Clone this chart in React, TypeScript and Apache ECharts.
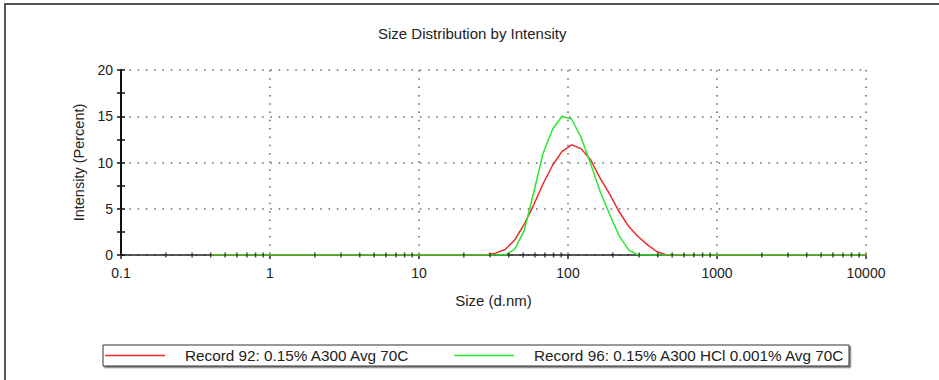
import React, { useEffect, useRef } from "react";
import * as echarts from "echarts";

const titleText = "Size Distribution by Intensity";
const xName = "Size (d.nm)";
const yName = "Intensity (Percent)";
const seriesNames = ["Record 92: 0.15% A300 Avg 70C", "Record 96: 0.15% A300 HCl 0.001% Avg 70C"];

// size bins (d.nm)
const sizes = [
  0.4, 0.4632, 0.5365, 0.6213, 0.7195, 0.8332, 0.9649, 1.117, 1.294, 1.499,
  1.736, 2.01, 2.328, 2.696, 3.122, 3.615, 4.187, 4.849, 5.615, 6.503,
  7.531, 8.721, 10.1, 11.7, 13.54, 15.69, 18.17, 21.04, 24.36, 28.21,
  32.67, 37.84, 43.82, 50.75, 58.77, 68.06, 78.82, 91.28, 105.7, 122.4,
  141.8, 164.2, 190.1, 220.2, 255.0, 295.3, 342.0, 396.1, 458.7, 531.2,
  615.1, 712.4, 825.0, 955.4, 1106, 1281, 1484, 1718, 1990, 2305,
  2669, 3091, 3580, 4145, 4801, 5560, 6439, 7456, 8635, 10000,
];

const record92 = [
  0, 0, 0, 0, 0, 0, 0, 0, 0, 0,
  0, 0, 0, 0, 0, 0, 0, 0, 0, 0,
  0, 0, 0, 0, 0, 0, 0, 0, 0, 0,
  0.2, 0.6, 1.6, 3.3, 5.4, 7.7, 9.7, 11.2, 11.9, 11.5,
  10.3, 8.3, 6.6, 4.7, 3.1, 2.0, 1.1, 0.35, 0, 0,
  0, 0, 0, 0, 0, 0, 0, 0, 0, 0,
  0, 0, 0, 0, 0, 0, 0, 0, 0, 0,
];

const record96 = [
  0, 0, 0, 0, 0, 0, 0, 0, 0, 0,
  0, 0, 0, 0, 0, 0, 0, 0, 0, 0,
  0, 0, 0, 0, 0, 0, 0, 0, 0, 0,
  0, 0, 0.6, 2.6, 6.7, 11.0, 13.6, 15.0, 14.7, 12.7,
  9.9, 6.9, 4.4, 2.1, 0.55, 0, 0, 0, 0, 0,
  0, 0, 0, 0, 0, 0, 0, 0, 0, 0,
  0, 0, 0, 0, 0, 0, 0, 0, 0, 0,
];

// minor tick positions on the log x axis
const xMinorTicks = [
  0.2, 0.3, 0.4, 0.5, 0.6, 0.7, 0.8, 0.9,
  2, 3, 4, 5, 6, 7, 8, 9,
  20, 30, 40, 50, 60, 70, 80, 90,
  200, 300, 400, 500, 600, 700, 800, 900,
  2000, 3000, 4000, 5000, 6000, 7000, 8000, 9000,
];

const FONT = "'Liberation Sans', Arial, sans-serif";
const dotted = { type: [1.5, 6.8], color: "#666", width: 1.5 };

export default function App() {
  const ref = useRef<HTMLDivElement>(null);
  useEffect(() => {
    const chart = echarts.init(ref.current as HTMLDivElement, null, { renderer: "svg" });
    chart.setOption({
      animation: false,
      backgroundColor: "#fff",
      textStyle: { fontFamily: FONT },
      title: {
        text: titleText,
        left: 373,
        top: 21,
        textStyle: { fontSize: 15, fontWeight: "normal", color: "#222", fontFamily: FONT },
      },
      grid: { left: 121, right: 73, top: 70, bottom: 125 },
      xAxis: {
        type: "log",
        logBase: 10,
        min: 0.1,
        max: 10000,
        name: xName,
        nameLocation: "middle",
        nameGap: 38,
        nameTextStyle: { fontSize: 15, color: "#222" },
        axisLine: { lineStyle: { color: "#222", width: 1.5 } },
        axisTick: { show: true, length: 4, lineStyle: { color: "#222", width: 1.5 } },
        axisLabel: { fontSize: 14, color: "#222", margin: 11, formatter: (v: number) => String(v) },
        splitLine: { show: true, lineStyle: dotted },
      },
      yAxis: [
        {
          type: "value",
          min: 0,
          max: 20,
          interval: 5,
          name: yName,
          nameLocation: "middle",
          nameGap: 33,
          nameTextStyle: { fontSize: 14.5, color: "#222" },
          axisLine: { show: true, lineStyle: { color: "#111", width: 2 } },
          axisTick: { show: true, length: 4, lineStyle: { color: "#111", width: 1.5 } },
          minorTick: { show: true, splitNumber: 2, length: 4, lineStyle: { color: "#111", width: 1.5 } },
          axisLabel: { fontSize: 14, color: "#222", margin: 8 },
          splitLine: { show: true, lineStyle: dotted },
        },
        {
          type: "value",
          min: 0,
          max: 20,
          interval: 5,
          position: "left",
          axisLine: { show: false },
          axisTick: { show: true, inside: true, length: 4, lineStyle: { color: "#111", width: 1.5 } },
          minorTick: { show: true, splitNumber: 2, length: 4, lineStyle: { color: "#111", width: 1.5 } },
          axisLabel: { show: false },
          splitLine: { show: false },
        },
      ],
      legend: {
        data: seriesNames,
        left: 103,
        top: 345,
        icon: "rect",
        itemWidth: 60,
        itemHeight: 1.5,
        itemGap: 44,
        padding: [3, 4, 3, 2],
        borderColor: "#333",
        borderWidth: 1,
        backgroundColor: "#fff",
        shadowColor: "#777",
        shadowOffsetX: 1.5,
        shadowOffsetY: 1.5,
        selectedMode: false,
        textStyle: { fontSize: 15.3, color: "#222", padding: [0, 0, 0, 15] },
      },
      graphic: [
        {
          type: "rect",
          silent: true,
          z: -10,
          shape: { x: 5, y: 4, width: 1000, height: 500 },
          style: { fill: "none", stroke: "#555", lineWidth: 2 },
        },
      ],
      series: [
        {
          name: seriesNames[0],
          type: "line",
          data: sizes.map((s, i) => [s, record92[i]]),
          symbol: "none",
          color: "#f02828",
          lineStyle: { color: "#f02828", width: 1.5 },
          z: 2,
        },
        {
          name: seriesNames[1],
          type: "line",
          data: sizes.map((s, i) => [s, record96[i]]),
          symbol: "none",
          color: "#2ee62e",
          lineStyle: { color: "#2ee62e", width: 1.5 },
          z: 3,
        },
        {
          type: "scatter",
          data: xMinorTicks.map((v) => [v, 0]),
          symbol: "rect",
          symbolSize: [1.5, 5],
          itemStyle: { color: "#222" },
          silent: true,
          z: 4,
        },
      ],
    });
    return () => chart.dispose();
  }, []);
  return (
    <div
      ref={ref}
      style={{ position: "fixed", left: 0, top: 0, width: 939, height: 380, background: "#fff" }}
    />
  );
}
